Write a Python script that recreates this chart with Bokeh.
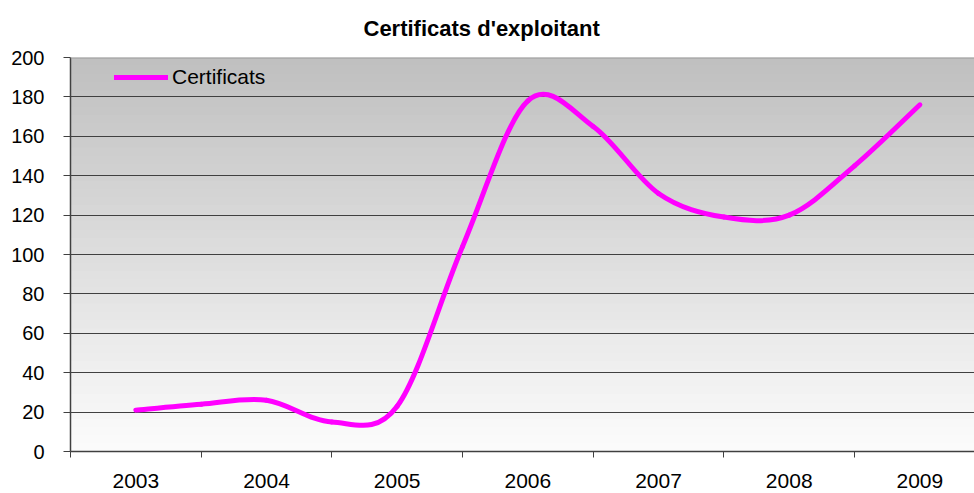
import numpy as np
from bokeh.plotting import figure
from bokeh.models import (Range1d, FixedTicker, BoxAnnotation, Legend, LegendItem,
                          Span, ColumnDataSource, Title)
from bokeh.embed import file_html
from bokeh.resources import INLINE

# ---------------- data ----------------
title_text = "Certificats d'exploitant"
series_name = "Certificats"
periods = [2003.0, 2003.5, 2004.0, 2004.5, 2005.0, 2005.5, 2006.0,
           2006.5, 2007.0, 2007.5, 2008.0, 2008.5, 2009.0]
certificats = [21, 24, 26, 15, 23, 104, 178, 165, 131, 119, 120, 145, 176]
year_labels = [2003, 2004, 2005, 2006, 2007, 2008, 2009]
y_ticks = [0, 20, 40, 60, 80, 100, 120, 140, 160, 180, 200]

FONT = "Liberation Sans"
MAGENTA = "#FF00FF"

p = figure(width=974, height=493, title=None,
           x_range=Range1d(2002.5, 2009.418), y_range=Range1d(0, 200),
           output_backend="svg", toolbar_location=None,
           min_border_left=70, min_border_right=0,
           min_border_top=57, min_border_bottom=42)
p.outline_line_color = None
p.background_fill_color = "white"
p.border_fill_color = "white"

# title (top-aligned inside a tall title panel so it sits high above the frame)
ttl = Title(text=title_text, align="left", offset=293, vertical_align="top",
            standoff=30, text_font=FONT, text_font_size="22px",
            text_font_style="bold", text_color="black")
p.add_layout(ttl, "above")

# gradient plot-area background (grey at top, almost white at bottom)
nb = 48
for k in range(nb):
    frac = (k + 0.5) / nb
    shade = int(round(252 - (252 - 191) * frac))
    col = "#%02x%02x%02x" % (shade, shade, shade)
    b = 200.0 * k / nb
    t = min(200.0, 200.0 * (k + 1) / nb + 0.6)
    p.add_layout(BoxAnnotation(bottom=b, top=t, fill_color=col, fill_alpha=1.0,
                               line_color=None, level="image"))

# ---------------- smoothed line (Catmull-Rom -> cubic Bezier) ----------------
x = np.array(periods, dtype=float)
y = np.array(certificats, dtype=float)
n = len(x)
xp = np.concatenate([[x[0]], x, [x[-1]]])
yp = np.concatenate([[y[0]], y, [y[-1]]])
src = ColumnDataSource(dict(
    x0=xp[1:n], y0=yp[1:n],
    x1=xp[2:n + 1], y1=yp[2:n + 1],
    cx0=xp[1:n] + (xp[2:n + 1] - xp[0:n - 1]) / 6.0,
    cy0=yp[1:n] + (yp[2:n + 1] - yp[0:n - 1]) / 6.0,
    cx1=xp[2:n + 1] - (xp[3:n + 2] - xp[1:n]) / 6.0,
    cy1=yp[2:n + 1] - (yp[3:n + 2] - yp[1:n]) / 6.0,
))
curve = p.bezier(x0="x0", y0="y0", x1="x1", y1="y1", cx0="cx0", cy0="cy0",
                 cx1="cx1", cy1="cy1", source=src,
                 line_color=MAGENTA, line_width=5, line_cap="round")

# legend entry
legend = Legend(items=[LegendItem(label=series_name, renderers=[curve], index=0)],
                location=(44, 362), padding=0, margin=0, spacing=0,
                border_line_color=None, background_fill_alpha=0,
                glyph_width=54, glyph_height=24, label_standoff=4,
                label_text_font=FONT, label_text_font_size="21px",
                label_text_color="black")
p.add_layout(legend)

# ---------------- axes / grid ----------------
xa = p.below[0]
xa.ticker = FixedTicker(ticks=year_labels,
                        minor_ticks=[yr - 0.5 for yr in year_labels])
xa.major_tick_out = 0
xa.major_tick_in = 0
xa.minor_tick_out = 6
xa.minor_tick_in = 0
xa.minor_tick_line_color = "#404040"
xa.axis_line_color = "#404040"
xa.axis_line_width = 1.5
xa.major_label_text_font = FONT
xa.major_label_text_font_size = "21px"
xa.major_label_text_color = "black"
xa.major_label_standoff = 16

ya = p.left[0]
ya.ticker = FixedTicker(ticks=y_ticks)
ya.major_tick_out = 7
ya.major_tick_in = 0
ya.minor_tick_out = 0
ya.minor_tick_in = 0
ya.major_tick_line_color = "#404040"
ya.axis_line_color = "#404040"
ya.axis_line_width = 1.5
ya.major_label_text_font = FONT
ya.major_label_text_font_size = "20px"
ya.major_label_text_color = "black"
ya.major_label_standoff = 19

p.xgrid.visible = False
p.ygrid.ticker = FixedTicker(ticks=y_ticks[1:-1])
p.ygrid.grid_line_color = "#404040"
p.ygrid.grid_line_width = 1.2

p.add_layout(Span(location=y_ticks[-1], dimension="width",
                  line_color="#9a9a9a", line_width=2))

open("out.html", "w").write(file_html(p, INLINE))
